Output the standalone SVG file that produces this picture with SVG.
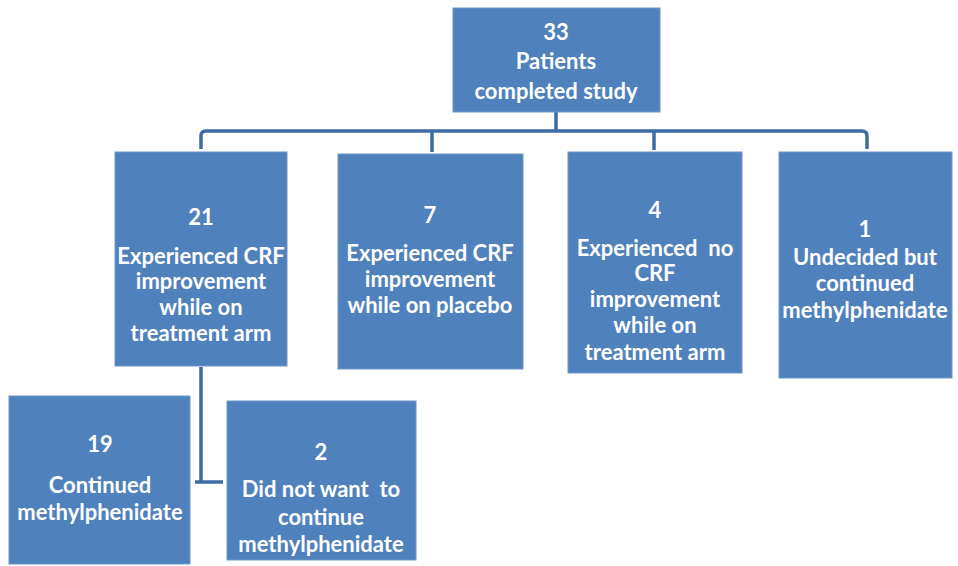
<svg xmlns="http://www.w3.org/2000/svg" width="958" height="566" viewBox="0 0 958 566">
<style>
.box{fill:#4F81BD;stroke:#6F96C8;stroke-width:1}
.t{font-family:Lato,"Open Sans","Liberation Sans",sans-serif;font-weight:bold;font-size:22px;fill:#FFFFFF;text-anchor:middle}
.c{fill:none;stroke:#3D6BA3;stroke-width:3.5}
</style>
<rect width="958" height="566" fill="#FFFFFF"/>
<g id="connectors">
<path class="c" d="M556 112 V131"/>
<path class="c" d="M201 149 V136 Q201 131 206 131 H862 Q867 131 867 136 V149"/>
<path class="c" d="M432 131 V152"/>
<path class="c" d="M654 131 V150"/>
<path class="c" d="M201 367 V482"/>
<path class="c" d="M195 482 H223"/>
</g>
<g id="n33">
<rect class="box" x="453" y="8" width="207" height="104"/>
<text class="t" x="556" y="40">33</text>
<text class="t" x="556" y="69">Patients</text>
<text class="t" x="556" y="99">completed study</text>
</g>
<g id="n21">
<rect class="box" x="115" y="152" width="172" height="214"/>
<text class="t" x="201" y="225">21</text>
<text class="t" x="201" y="264">Experienced CRF</text>
<text class="t" x="201" y="289">improvement</text>
<text class="t" x="201" y="315">while on</text>
<text class="t" x="201" y="341">treatment arm</text>
</g>
<g id="n7">
<rect class="box" x="338" y="154" width="185" height="215"/>
<text class="t" x="430" y="223">7</text>
<text class="t" x="430" y="261">Experienced CRF</text>
<text class="t" x="430" y="287">improvement</text>
<text class="t" x="430" y="313">while on placebo</text>
</g>
<g id="n4">
<rect class="box" x="568" y="152" width="174" height="221"/>
<text class="t" x="655" y="218">4</text>
<text class="t" x="655" y="256" xml:space="preserve">Experienced  no</text>
<text class="t" x="655" y="281">CRF</text>
<text class="t" x="655" y="307">improvement</text>
<text class="t" x="655" y="333">while on</text>
<text class="t" x="655" y="360">treatment arm</text>
</g>
<g id="n1">
<rect class="box" x="779" y="152" width="173" height="226"/>
<text class="t" x="865" y="237">1</text>
<text class="t" x="865" y="265">Undecided but</text>
<text class="t" x="865" y="291">continued</text>
<text class="t" x="865" y="318">methylphenidate</text>
</g>
<g id="n19">
<rect class="box" x="9" y="396" width="181" height="168"/>
<text class="t" x="100" y="452">19</text>
<text class="t" x="100" y="493">Continued</text>
<text class="t" x="100" y="520">methylphenidate</text>
</g>
<g id="n2">
<rect class="box" x="227" y="401" width="189" height="159"/>
<text class="t" x="321" y="460">2</text>
<text class="t" x="321" y="497" xml:space="preserve">Did not want  to</text>
<text class="t" x="321" y="525">continue</text>
<text class="t" x="321" y="552">methylphenidate</text>
</g>
</svg>
